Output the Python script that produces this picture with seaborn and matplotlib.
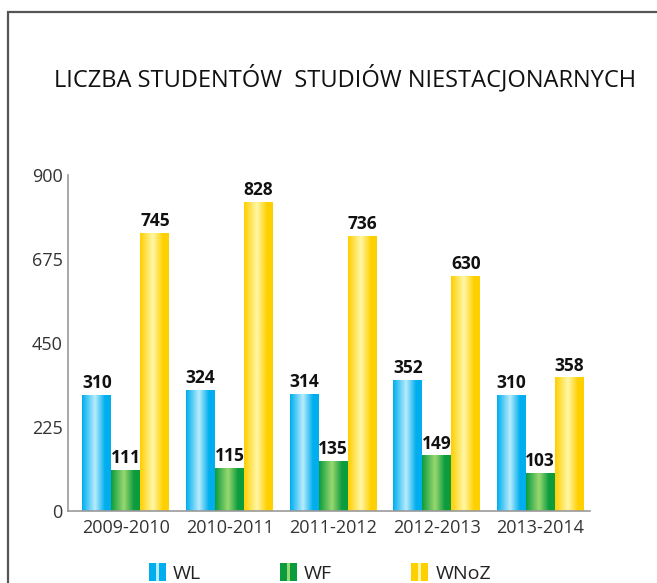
import numpy as np
import pandas as pd
import seaborn as sns
import matplotlib.pyplot as plt
from matplotlib.patches import Rectangle
from matplotlib.legend_handler import HandlerBase
from matplotlib.colors import LinearSegmentedColormap

# data
years = ["2009-2010", "2010-2011", "2011-2012", "2012-2013", "2013-2014"]
wl = [310, 324, 314, 352, 310]
wf = [111, 115, 135, 149, 103]
wnoz = [745, 828, 736, 630, 358]
series = ["WL", "WF", "WNoZ"]
y_ticks = [0, 225, 450, 675, 900]

edge_cols = {"WL": "#00aeef", "WF": "#0b9c3e", "WNoZ": "#ffd000"}
mid_cols = {"WL": "#b8ecfc", "WF": "#9ad870", "WNoZ": "#fff7a8"}

df = pd.DataFrame({"Rok": years, "WL": wl, "WF": wf, "WNoZ": wnoz})
long_df = df.melt(id_vars="Rok", value_vars=series, var_name="Wydział", value_name="Liczba")

sns.set_style("white")
plt.rcParams["font.family"] = ["Open Sans", "DejaVu Sans"]

fig = plt.figure(figsize=(6.57, 5.83), dpi=100)
ax = fig.add_axes([0.1035, 0.1235, 0.7945, 0.5763])

sns.barplot(data=long_df, x="Rok", y="Liczba", hue="Wydział", order=years,
            hue_order=series, palette=edge_cols, width=0.84, saturation=1,
            errorbar=None, legend=False, ax=ax)

# cylinder-like shading on each bar
for container, name in zip(ax.containers, series):
    cmap = LinearSegmentedColormap.from_list(
        name, [(0, edge_cols[name]), (0.45, mid_cols[name]),
               (0.8, edge_cols[name]), (1, edge_cols[name])])
    grad = np.linspace(0, 1, 64).reshape(1, -1)
    for bar in container:
        x0, w, h = bar.get_x(), bar.get_width(), bar.get_height()
        im = ax.imshow(grad, cmap=cmap, aspect="auto",
                       extent=[x0, x0 + w, 0, h], zorder=bar.get_zorder() + 0.1)
        im.set_clip_path(bar)
    ax.bar_label(container, padding=2, fontsize=12.5, fontweight="bold", color="#111111")

ax.set_xlim(-0.56, 4.48)
ax.set_ylim(0, 900)
ax.set_yticks(y_ticks)
ax.set_xlabel("")
ax.set_ylabel("")
ax.tick_params(axis="both", length=0, labelsize=13, labelcolor="#333333", pad=6)
ax.tick_params(axis="y", pad=4)
for side in ["top", "right"]:
    ax.spines[side].set_visible(False)
for side in ["left", "bottom"]:
    ax.spines[side].set_color("#999999")
    ax.spines[side].set_linewidth(1.2)

fig.text(0.525, 0.866, "LICZBA STUDENTÓW  STUDIÓW NIESTACJONARNYCH",
         ha="center", va="center", fontsize=17, color="#111111")


class StripeHandler(HandlerBase):
    def create_artists(self, legend, orig_handle, xdescent, ydescent, width,
                       height, fontsize, trans):
        name = orig_handle.get_label()
        s = height
        x0 = -xdescent + (width - s) / 2
        parts = []
        for c, start, frac in [(edge_cols[name], 0, 0.42), (mid_cols[name], 0.42, 0.16),
                               (edge_cols[name], 0.58, 0.42)]:
            parts.append(Rectangle((x0 + start * s, -ydescent), frac * s, s,
                                   facecolor=c, edgecolor="none", transform=trans))
        return parts


handles = [Rectangle((0, 0), 1, 1, label=n) for n in series]
fig.legend(handles, series, handler_map={Rectangle: StripeHandler()}, ncol=3,
           loc="center", bbox_to_anchor=(0.486, 0.017), frameon=False,
           fontsize=14, handlelength=1.0, handleheight=1.0, handletextpad=0.3,
           columnspacing=4.0, labelcolor="#222222")

# frame of the original graphic
fig.add_artist(Rectangle((8 / 657, -0.1), 1.2, 1 - 12 / 583 + 0.1,
                         transform=fig.transFigure, fill=False,
                         edgecolor="#555555", linewidth=1.6))

fig.savefig("out.png", dpi=100)
